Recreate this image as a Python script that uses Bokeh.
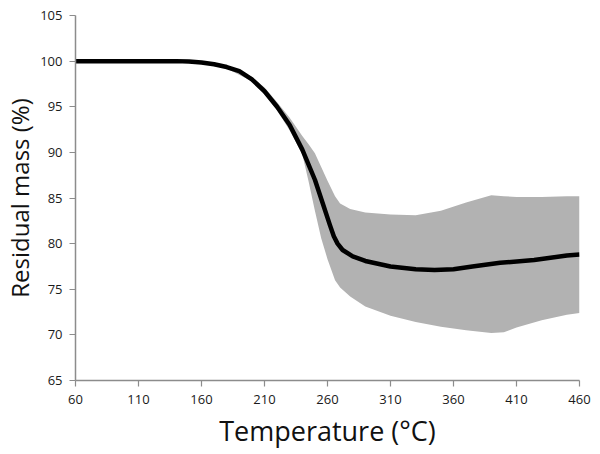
from bokeh.plotting import figure
from bokeh.models import Range1d, FixedTicker
from bokeh.embed import file_html
from bokeh.resources import INLINE

# Mean residual mass curve
temp = [60, 100, 140, 150, 160, 170, 180, 190, 200, 210, 220, 230, 240, 250, 256,
        262, 265, 268, 272, 280, 290, 310, 330, 345, 360, 375, 397, 424, 450, 460]
mass = [100.0, 100.0, 100.0, 99.95, 99.85, 99.65, 99.35, 98.9, 98.0, 96.7, 95.0,
        93.0, 90.3, 87.0, 84.5, 82.0, 80.8, 80.0, 79.3, 78.6, 78.1, 77.5, 77.2,
        77.1, 77.2, 77.5, 77.9, 78.2, 78.7, 78.8]

# Spread band (upper / lower bound)
band_t = [60, 100, 140, 160, 180, 200, 210, 220, 230, 240, 245, 250, 255, 260, 266,
          270, 278, 290, 310, 330, 350, 370, 390, 400, 410, 430, 450, 460]
band_hi = [100.1, 100.1, 100.1, 99.95, 99.5, 98.3, 97.1, 95.5, 93.8, 91.8, 90.9,
           89.9, 88.4, 86.9, 85.2, 84.4, 83.8, 83.4, 83.2, 83.1, 83.6, 84.5, 85.3,
           85.2, 85.1, 85.1, 85.2, 85.2]
band_lo = [99.9, 99.9, 99.9, 99.75, 99.2, 97.8, 96.4, 94.6, 92.4, 89.8, 86.8, 83.6,
           80.6, 78.3, 76.0, 75.2, 74.2, 73.1, 72.1, 71.4, 70.9, 70.5, 70.2, 70.3,
           70.8, 71.6, 72.2, 72.4]

x_ticks = [60, 110, 160, 210, 260, 310, 360, 410, 460]
y_ticks = [65, 70, 75, 80, 85, 90, 95, 100, 105]

FONT = "Open Sans"

p = figure(width=600, height=454, output_backend="svg", toolbar_location=None,
           x_range=Range1d(60, 460), y_range=Range1d(65, 105),
           min_border_left=75, min_border_right=21, min_border_top=15,
           min_border_bottom=74)
p.outline_line_color = None
p.xgrid.visible = False
p.ygrid.visible = False

p.varea(x=band_t, y1=band_lo, y2=band_hi, fill_color="#b2b2b2", fill_alpha=1.0)
p.line(temp, mass, line_color="black", line_width=4.5, line_join="round")

for ax in (p.xaxis[0], p.yaxis[0]):
    ax.axis_line_color = "#8c8c8c"
    ax.axis_line_width = 1.5
    ax.major_tick_line_color = "#8c8c8c"
    ax.major_tick_line_width = 1.2
    ax.major_tick_out = 6
    ax.major_tick_in = 0
    ax.minor_tick_line_color = None
    ax.major_label_text_font = FONT
    ax.major_label_text_font_size = "13px"
    ax.major_label_text_color = "#1a1a1a"
    ax.axis_label_text_font = FONT
    ax.axis_label_text_font_style = "normal"
    ax.axis_label_text_color = "#111111"

p.xaxis.axis_label_text_font_size = "27px"
p.yaxis.axis_label_text_font_size = "24px"
p.xaxis.ticker = FixedTicker(ticks=x_ticks)
p.yaxis.ticker = FixedTicker(ticks=y_ticks)
p.xaxis.axis_label = "Temperature (°C)"
p.yaxis.axis_label = "Residual mass (%)"
p.xaxis.major_label_standoff = 8
p.yaxis.major_label_standoff = 7
p.xaxis.axis_label_standoff = 5
p.yaxis.axis_label_standoff = 1

open("out.html", "w").write(file_html(p, INLINE))
